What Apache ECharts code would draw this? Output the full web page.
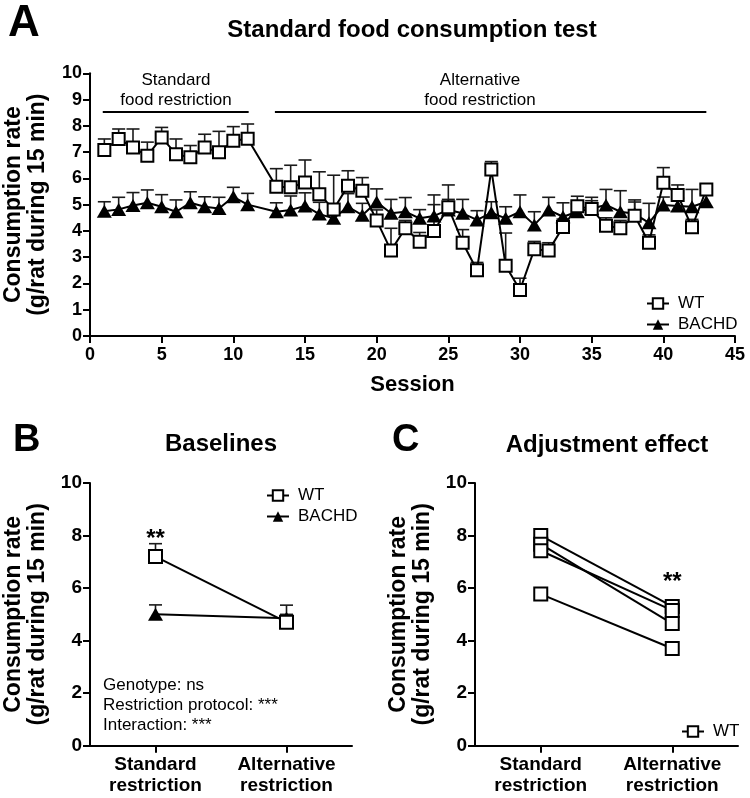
<!DOCTYPE html>
<html><head><meta charset="utf-8">
<script src="https://cdn.jsdelivr.net/npm/echarts@6/dist/echarts.min.js"></script>
<style>html,body{margin:0;padding:0;background:#fff}#c{width:750px;height:798px}</style>
</head><body><div id="c"></div>
<script>
// ---------- Panel A data ----------
const sessions = [1,2,3,4,5,6,7,8,9,10,11,13,14,15,16,17,18,19,20,21,22,23,24,25,26,27,28,29,30,31,32,33,34,35,36,37,38,39,40,41,42,43];
const wtMean = [7.08,7.5,7.18,6.86,7.56,6.92,6.8,7.18,6.99,7.43,7.51,
  5.68,5.66,5.84,5.4,4.82,5.72,5.53,4.4,3.25,4.1,
  3.59,4.0,4.9,3.55,2.5,6.34,2.67,1.75,3.3,3.25,
  4.15,4.94,4.83,4.2,4.1,4.58,3.55,5.83,5.37,4.14,5.58];
const wtErr = [0.42,0.38,0.7,0.52,0.38,0.58,0.45,0.5,0.8,0.54,0.56,
  0.69,0.84,0.86,0.85,1.3,0.57,0.5,0.4,0.85,0.3,
  0.35,1.0,0.85,0.5,0.3,0.3,1.25,0.45,0.3,0.3,
  0.3,0.38,0.45,0.3,0.3,0.6,0.3,0.58,0.38,0.3,0.2];
const bachdMean = [4.75,4.82,4.97,5.07,4.92,4.73,5.07,4.92,4.85,5.3,5.0,
  4.73,4.8,4.95,4.64,4.48,4.92,4.6,5.1,4.67,4.73,
  4.48,4.57,4.8,4.67,4.42,4.69,4.48,4.73,4.23,4.8,
  4.54,4.73,4.85,4.99,4.73,4.65,4.31,4.99,4.95,4.92,5.11];
const bachdErr = [0.36,0.46,0.49,0.49,0.46,0.45,0.42,0.38,0.43,0.36,0.43,
  0.34,0.53,0.5,0.45,0.45,0.5,0.45,0.5,0.53,0.54,
  0.33,0.8,0.4,0.53,0.35,0.42,0.44,0.64,0.5,0.48,
  0.53,0.3,0.3,0.59,0.8,0.45,0.74,0.3,0.3,0.66,0.3];
// protocol brackets (session range, level)
const bracketStart = [0.89, 12.9];
const bracketEnd = [11.07, 43.0];
const bracketLevel = 8.54;
const bracketText = ['Standard\nfood restriction', 'Alternative\nfood restriction'];

// ---------- Panel B data ----------
const groupCats = ['Standard\nrestriction', 'Alternative\nrestriction'];
const baseWtMean = [7.2, 4.7];
const baseWtErr = [0.49, 0.3];
const baseBachdMean = [5.0, 4.85];
const baseBachdErr = [0.36, 0.5];
const statsText = ['Genotype: ns', 'Restriction protocol: ***', 'Interaction: ***'];

// ---------- Panel C data (individual WT rats) ----------
const adjRat1 = [8.0, 5.3];
const adjRat2 = [7.67, 4.65];
const adjRat3 = [7.42, 5.15];
const adjRat4 = [5.77, 3.7];

const FONT = 'Liberation Sans, Arial, Helvetica, sans-serif';
const chart = echarts.init(document.getElementById('c'));

function errRender(params, api) {
  const x = api.value(0), y = api.value(1), e = api.value(2);
  const p0 = api.coord([x, y]);
  const p1 = api.coord([x, y + e]);
  const w = 6.5;
  const st = { stroke: '#1a1a1a', lineWidth: 1.6 };
  return { type: 'group', children: [
    { type: 'line', shape: { x1: p0[0], y1: p0[1], x2: p1[0], y2: p1[1] }, style: st },
    { type: 'line', shape: { x1: p1[0] - w, y1: p1[1], x2: p1[0] + w, y2: p1[1] }, style: st }
  ]};
}

const wtLineData = sessions.map((s, i) => [s, wtMean[i]]);
const wtErrData = sessions.map((s, i) => [s, wtMean[i], wtErr[i]]);
const bLineData = sessions.map((s, i) => [s, bachdMean[i]]);
const bErrData = sessions.map((s, i) => [s, bachdMean[i], bachdErr[i]]);

const axisLine = { show: true, lineStyle: { color: '#000', width: 2 } };
const axisTick = { show: true, length: 7, lineStyle: { color: '#000', width: 2 } };
const yName = 'Consumption rate\n(g/rat during 15 min)';
const yNameStyle = { fontFamily: FONT, fontWeight: 'bold', fontSize: 23, lineHeight: 24, color: '#000' };

const wtStyle = {
  type: 'line', symbol: 'rect', symbolSize: 12,
  itemStyle: { color: '#fff', borderColor: '#000', borderWidth: 2 },
  lineStyle: { color: '#000', width: 2 }, z: 4, animation: false
};
const bStyle = {
  type: 'line', symbol: 'triangle', symbolSize: [15, 13],
  itemStyle: { color: '#000', borderColor: '#000', borderWidth: 0 },
  lineStyle: { color: '#000', width: 2 }, z: 3, animation: false
};

const option = {
  animation: false,
  backgroundColor: '#fff',
  textStyle: { fontFamily: FONT },
  grid: [
    { left: 90, top: 73.3, width: 645, height: 262.7, outerBoundsMode: 'none', containLabel: false },
    { left: 90, top: 483, width: 262, height: 262.7, outerBoundsMode: 'none', containLabel: false },
    { left: 475, top: 483, width: 263, height: 262.7, outerBoundsMode: 'none', containLabel: false }
  ],
  xAxis: [
    { gridIndex: 0, type: 'value', min: 0, max: 45, interval: 5, splitLine: { show: false },
      axisLine, axisTick,
      axisLabel: { fontFamily: FONT, fontWeight: 'bold', fontSize: 18, color: '#000', margin: 10 },
      name: 'Session', nameLocation: 'middle', nameGap: 38,
      nameTextStyle: { fontFamily: FONT, fontWeight: 'bold', fontSize: 22, color: '#000' } },
    { gridIndex: 1, type: 'category', data: groupCats, boundaryGap: true,
      axisLine, axisTick: Object.assign({ alignWithLabel: true }, axisTick),
      axisLabel: { fontFamily: FONT, fontWeight: 'bold', fontSize: 19, lineHeight: 21, color: '#000', margin: 9 } },
    { gridIndex: 2, type: 'category', data: groupCats, boundaryGap: true,
      axisLine, axisTick: Object.assign({ alignWithLabel: true }, axisTick),
      axisLabel: { fontFamily: FONT, fontWeight: 'bold', fontSize: 19, lineHeight: 21, color: '#000', margin: 9 } }
  ],
  yAxis: [
    { gridIndex: 0, type: 'value', min: 0, max: 10, interval: 1, splitLine: { show: false },
      axisLine, axisTick,
      axisLabel: { fontFamily: FONT, fontWeight: 'bold', fontSize: 18, color: '#000', margin: 8 },
      name: yName, nameLocation: 'middle', nameRotate: 90, nameGap: 40, nameTextStyle: yNameStyle },
    { gridIndex: 1, type: 'value', min: 0, max: 10, interval: 2, splitLine: { show: false },
      axisLine, axisTick,
      axisLabel: { fontFamily: FONT, fontWeight: 'bold', fontSize: 19, color: '#000', margin: 8 },
      name: yName, nameLocation: 'middle', nameRotate: 90, nameGap: 40, nameTextStyle: yNameStyle },
    { gridIndex: 2, type: 'value', min: 0, max: 10, interval: 2, splitLine: { show: false },
      axisLine, axisTick,
      axisLabel: { fontFamily: FONT, fontWeight: 'bold', fontSize: 19, color: '#000', margin: 8 },
      name: yName, nameLocation: 'middle', nameRotate: 90, nameGap: 40, nameTextStyle: yNameStyle }
  ],
  legend: [
    { left: 641, top: 290, orient: 'vertical', data: ['WT', 'BACHD'], itemWidth: 22, itemHeight: 13,
      itemGap: 4, selectedMode: false, textStyle: { fontFamily: FONT, fontSize: 17, color: '#000', padding: [0,0,0,4] } },
    { left: 261, top: 482, orient: 'vertical', data: ['WT', 'BACHD'], itemWidth: 22, itemHeight: 13,
      itemGap: 4, selectedMode: false, textStyle: { fontFamily: FONT, fontSize: 17, color: '#000', padding: [0,0,0,4] } },
    { left: 676, top: 718, orient: 'vertical', data: ['WT'], itemWidth: 22, itemHeight: 13,
      itemGap: 4, selectedMode: false, textStyle: { fontFamily: FONT, fontSize: 17, color: '#000', padding: [0,0,0,4] } }
  ],
  series: [
    // Panel A
    { type: 'custom', name: 'WT err', xAxisIndex: 0, yAxisIndex: 0, renderItem: errRender, data: wtErrData, z: 1, silent: true },
    { type: 'custom', name: 'BACHD err', xAxisIndex: 0, yAxisIndex: 0, renderItem: errRender, data: bErrData, z: 1, silent: true },
    Object.assign({}, bStyle, { name: 'BACHD', xAxisIndex: 0, yAxisIndex: 0, data: bLineData }),
    Object.assign({}, wtStyle, { name: 'WT', xAxisIndex: 0, yAxisIndex: 0, data: wtLineData,
      markLine: { silent: true, symbol: 'none', label: { show: false },
        lineStyle: { color: '#000', width: 2, type: 'solid' },
        data: bracketStart.map((s, i) => [{ coord: [s, bracketLevel] }, { coord: [bracketEnd[i], bracketLevel] }]) } }),
    // Panel B
    { type: 'custom', name: 'WT err B', xAxisIndex: 1, yAxisIndex: 1, renderItem: errRender,
      data: baseWtMean.map((v, i) => [i, v, baseWtErr[i]]), z: 1, silent: true },
    { type: 'custom', name: 'BACHD err B', xAxisIndex: 1, yAxisIndex: 1, renderItem: errRender,
      data: baseBachdMean.map((v, i) => [i, v, baseBachdErr[i]]), z: 1, silent: true },
    Object.assign({}, bStyle, { name: 'BACHD', xAxisIndex: 1, yAxisIndex: 1, data: baseBachdMean, symbolSize: [15, 13] }),
    Object.assign({}, wtStyle, { name: 'WT', xAxisIndex: 1, yAxisIndex: 1, data: baseWtMean, symbolSize: 13,
      markPoint: { silent: true, symbol: 'rect', symbolSize: 1, itemStyle: { color: 'rgba(0,0,0,0)', borderWidth: 0 },
        label: { show: true, formatter: '**', fontFamily: FONT, fontWeight: 'bold', fontSize: 24, color: '#000', position: 'inside' },
        data: [{ coord: [0, 7.85] }] } }),
    // Panel C
    Object.assign({}, wtStyle, { name: 'WT', xAxisIndex: 2, yAxisIndex: 2, data: adjRat1, symbolSize: 13 }),
    Object.assign({}, wtStyle, { name: 'WT', xAxisIndex: 2, yAxisIndex: 2, data: adjRat2, symbolSize: 13 }),
    Object.assign({}, wtStyle, { name: 'WT', xAxisIndex: 2, yAxisIndex: 2, data: adjRat3, symbolSize: 13 }),
    Object.assign({}, wtStyle, { name: 'WT', xAxisIndex: 2, yAxisIndex: 2, data: adjRat4, symbolSize: 13,
      markPoint: { silent: true, symbol: 'rect', symbolSize: 1, itemStyle: { color: 'rgba(0,0,0,0)', borderWidth: 0 },
        label: { show: true, formatter: '**', fontFamily: FONT, fontWeight: 'bold', fontSize: 24, color: '#000', position: 'inside' },
        data: [{ coord: [1, 6.2] }] } })
  ],
  graphic: [
    { type: 'text', left: 8, top: 2, style: { text: 'A', font: 'bold 44px ' + FONT, fill: '#000' } },
    { type: 'text', x: 412, y: 30, style: { text: 'Standard food consumption test', font: 'bold 24px ' + FONT, fill: '#000', textAlign: 'center', textVerticalAlign: 'middle' } },
    { type: 'text', x: 176, y: 90, style: { text: bracketText[0], font: '17px ' + FONT, lineHeight: 20, fill: '#000', textAlign: 'center', textVerticalAlign: 'middle' } },
    { type: 'text', x: 480, y: 90, style: { text: bracketText[1], font: '17px ' + FONT, lineHeight: 20, fill: '#000', textAlign: 'center', textVerticalAlign: 'middle' } },
    { type: 'text', left: 13, top: 422, style: { text: 'B', font: 'bold 38px ' + FONT, fill: '#000' } },
    { type: 'text', x: 221, y: 444, style: { text: 'Baselines', font: 'bold 24px ' + FONT, fill: '#000', textAlign: 'center', textVerticalAlign: 'middle' } },
    { type: 'text', left: 392, top: 422, style: { text: 'C', font: 'bold 38px ' + FONT, fill: '#000' } },
    { type: 'text', x: 607, y: 445, style: { text: 'Adjustment effect', font: 'bold 24px ' + FONT, fill: '#000', textAlign: 'center', textVerticalAlign: 'middle' } },
    { type: 'text', x: 103, y: 705, style: { text: statsText.join('\n'), font: '17px ' + FONT, lineHeight: 20, fill: '#000', textAlign: 'left', textVerticalAlign: 'middle' } }
  ]
};
chart.setOption(option);
</script>
</body></html>
